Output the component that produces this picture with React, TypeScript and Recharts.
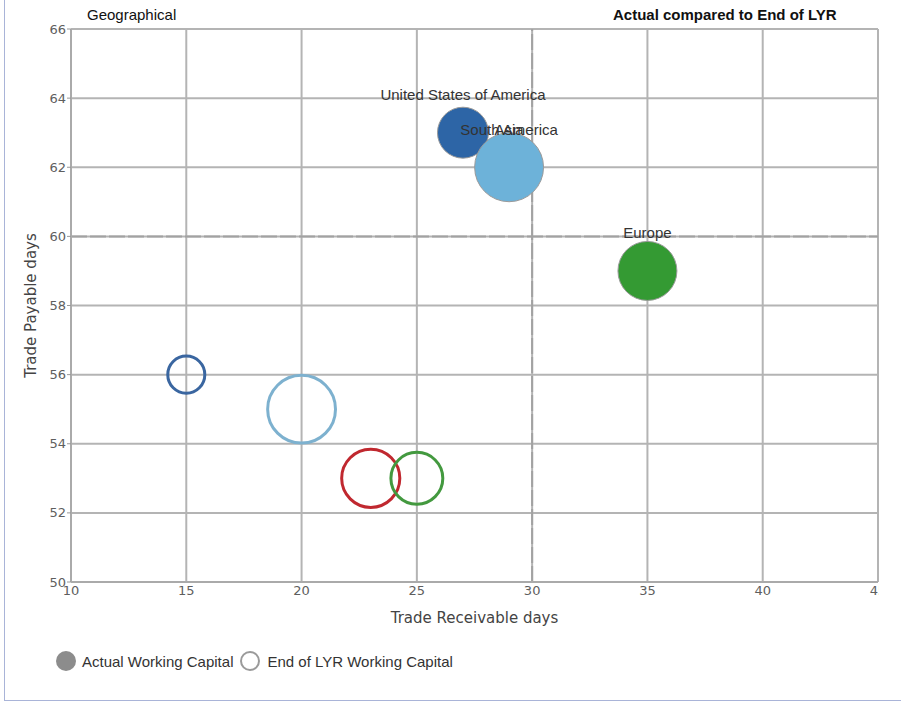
import React from "react";
import {
  ScatterChart,
  Scatter,
  XAxis,
  YAxis,
  ZAxis,
  CartesianGrid,
  ReferenceLine,
  LabelList,
  Legend,
} from "recharts";

// regions, in drawing order (Asia sits under South America)
const regions = ["United States of America", "Asia", "South America", "Europe"];
const regionColors = ["#2d65a6", "#c1272d", "#6db2d9", "#349a33"];
const lyrColors = ["#3a66a0", "#c0282f", "#7db1cf", "#43993f"];

// actual working capital
const actualReceivable = [27, 29, 29, 35];
const actualPayable = [63, 62, 62, 59];
const actualCapital = [53, 90, 97, 71];

// end of last year working capital
const lyrReceivable = [15, 23, 20, 25];
const lyrPayable = [56, 53, 55, 53];
const lyrCapital = [28, 69, 94, 55];

const xTicks = [10, 15, 20, 25, 30, 35, 40, 45];
const yTicks = [50, 52, 54, 56, 58, 60, 62, 64, 66];

const actualData = regions.map((region, i) => ({
  region,
  x: actualReceivable[i],
  y: actualPayable[i],
  z: actualCapital[i],
}));

const lyrData = regions.map((region, i) => ({
  region,
  x: lyrReceivable[i],
  y: lyrPayable[i],
  z: lyrCapital[i],
}));

const FilledBubble = (props: any) => (
  <circle
    cx={props.cx}
    cy={props.cy}
    r={props.width / 2}
    fill={regionColors[regions.indexOf(props.payload.region)]}
    stroke="#9a9a9a"
    strokeWidth={1}
  />
);

const HollowBubble = (props: any) => (
  <circle
    cx={props.cx}
    cy={props.cy}
    r={props.width / 2}
    fill="none"
    stroke={lyrColors[regions.indexOf(props.payload.region)]}
    strokeWidth={3}
  />
);

const BubbleLabel = (props: any) => {
  const vb = props.viewBox || props;
  const cx = vb.x + vb.width / 2;
  const cy = vb.y + vb.height / 2;
  return (
    <text
      x={cx}
      y={cy - 38}
      textAnchor="middle"
      dominantBaseline="central"
      fontFamily="'Liberation Sans', Arial, sans-serif"
      fontSize={15}
      fill="#333"
    >
      {props.value}
    </text>
  );
};

const XTitle = (props: any) => {
  const vb = props.viewBox;
  return (
    <text
      x={vb.x + vb.width / 2}
      y={618}
      textAnchor="middle"
      dominantBaseline="central"
      fontFamily="'DejaVu Sans', sans-serif"
      fontSize={15}
      fill="#444"
    >
      Trade Receivable days
    </text>
  );
};

const YTitle = (props: any) => {
  const vb = props.viewBox;
  const cy = vb.y + vb.height / 2;
  return (
    <text
      x={31}
      y={cy}
      transform={`rotate(-90 31 ${cy})`}
      textAnchor="middle"
      dominantBaseline="central"
      fontFamily="'DejaVu Sans', sans-serif"
      fontSize={15}
      fill="#444"
    >
      Trade Payable days
    </text>
  );
};

const LegendContent = () => (
  <div
    style={{
      height: 24,
      display: "flex",
      alignItems: "center",
      paddingLeft: 56,
      fontFamily: "'Liberation Sans', Arial, sans-serif",
      fontSize: 15,
      color: "#333",
    }}
  >
    <span
      style={{
        width: 20,
        height: 20,
        borderRadius: "50%",
        background: "#8c8c8c",
        display: "inline-block",
      }}
    />
    <span style={{ marginLeft: 6 }}>Actual Working Capital</span>
    <span
      style={{
        width: 16,
        height: 16,
        borderRadius: "50%",
        border: "2px solid #9a9a9a",
        display: "inline-block",
        marginLeft: 7,
      }}
    />
    <span style={{ marginLeft: 7 }}>End of LYR Working Capital</span>
  </div>
);

const tickStyle = {
  fill: "#5e5e5e",
  fontSize: 13,
  fontFamily: "'DejaVu Sans', sans-serif",
};

export default function App() {
  return (
    <div
      style={{
        position: "absolute",
        left: 0,
        top: 0,
        width: 901,
        height: 702,
        background: "#fff",
      }}
    >
      <div
        style={{
          position: "absolute",
          left: 4,
          top: 0,
          width: 896,
          height: 700,
          borderLeft: "1px solid #a9b4d8",
          borderBottom: "1px solid #a9b4d8",
        }}
      />
      <div
        style={{
          position: "absolute",
          left: 87,
          top: 6,
          fontFamily: "'Liberation Sans', Arial, sans-serif",
          fontSize: 15,
          color: "#111",
          whiteSpace: "nowrap",
        }}
      >
        Geographical
      </div>
      <div
        style={{
          position: "absolute",
          left: 613,
          top: 6,
          fontFamily: "'Liberation Sans', Arial, sans-serif",
          fontSize: 15,
          fontWeight: "bold",
          color: "#111",
          whiteSpace: "nowrap",
        }}
      >
        Actual compared to End of LYR
      </div>
      <div style={{ position: "absolute", left: 0, top: 0 }}>
        <ScatterChart
          width={879}
          height={702}
          margin={{ top: 29, right: 1, left: 0, bottom: 29 }}
        >
          <CartesianGrid stroke="#b4b4b4" strokeWidth={2} />
          <XAxis
            type="number"
            dataKey="x"
            domain={[10, 45]}
            ticks={xTicks}
            interval={0}
            height={67}
            tick={tickStyle}
            tickLine={false}
            tickSize={2}
            axisLine={{ stroke: "#aaa", strokeWidth: 2 }}
            label={<XTitle />}
          />
          <YAxis
            type="number"
            dataKey="y"
            domain={[50, 66]}
            ticks={yTicks}
            interval={0}
            width={71}
            tick={tickStyle}
            tickLine={{ stroke: "#999" }}
            tickSize={4}
            tickMargin={1}
            axisLine={{ stroke: "#aaa", strokeWidth: 2 }}
            label={<YTitle />}
          />
          <ZAxis type="number" dataKey="z" domain={[0, 100]} range={[0, 3848]} />
          <ReferenceLine x={30} stroke="#a2a2a2" strokeWidth={2} strokeDasharray="16 3" />
          <ReferenceLine y={60} stroke="#a2a2a2" strokeWidth={2} strokeDasharray="16 3" />
          <Legend
            verticalAlign="bottom"
            align="left"
            height={24}
            content={<LegendContent />}
          />
          <Scatter
            name="End of LYR Working Capital"
            data={lyrData}
            shape={<HollowBubble />}
            isAnimationActive={false}
          />
          <Scatter
            name="Actual Working Capital"
            data={actualData}
            shape={<FilledBubble />}
            isAnimationActive={false}
          >
            <LabelList dataKey="region" content={<BubbleLabel />} />
          </Scatter>
        </ScatterChart>
      </div>
    </div>
  );
}
